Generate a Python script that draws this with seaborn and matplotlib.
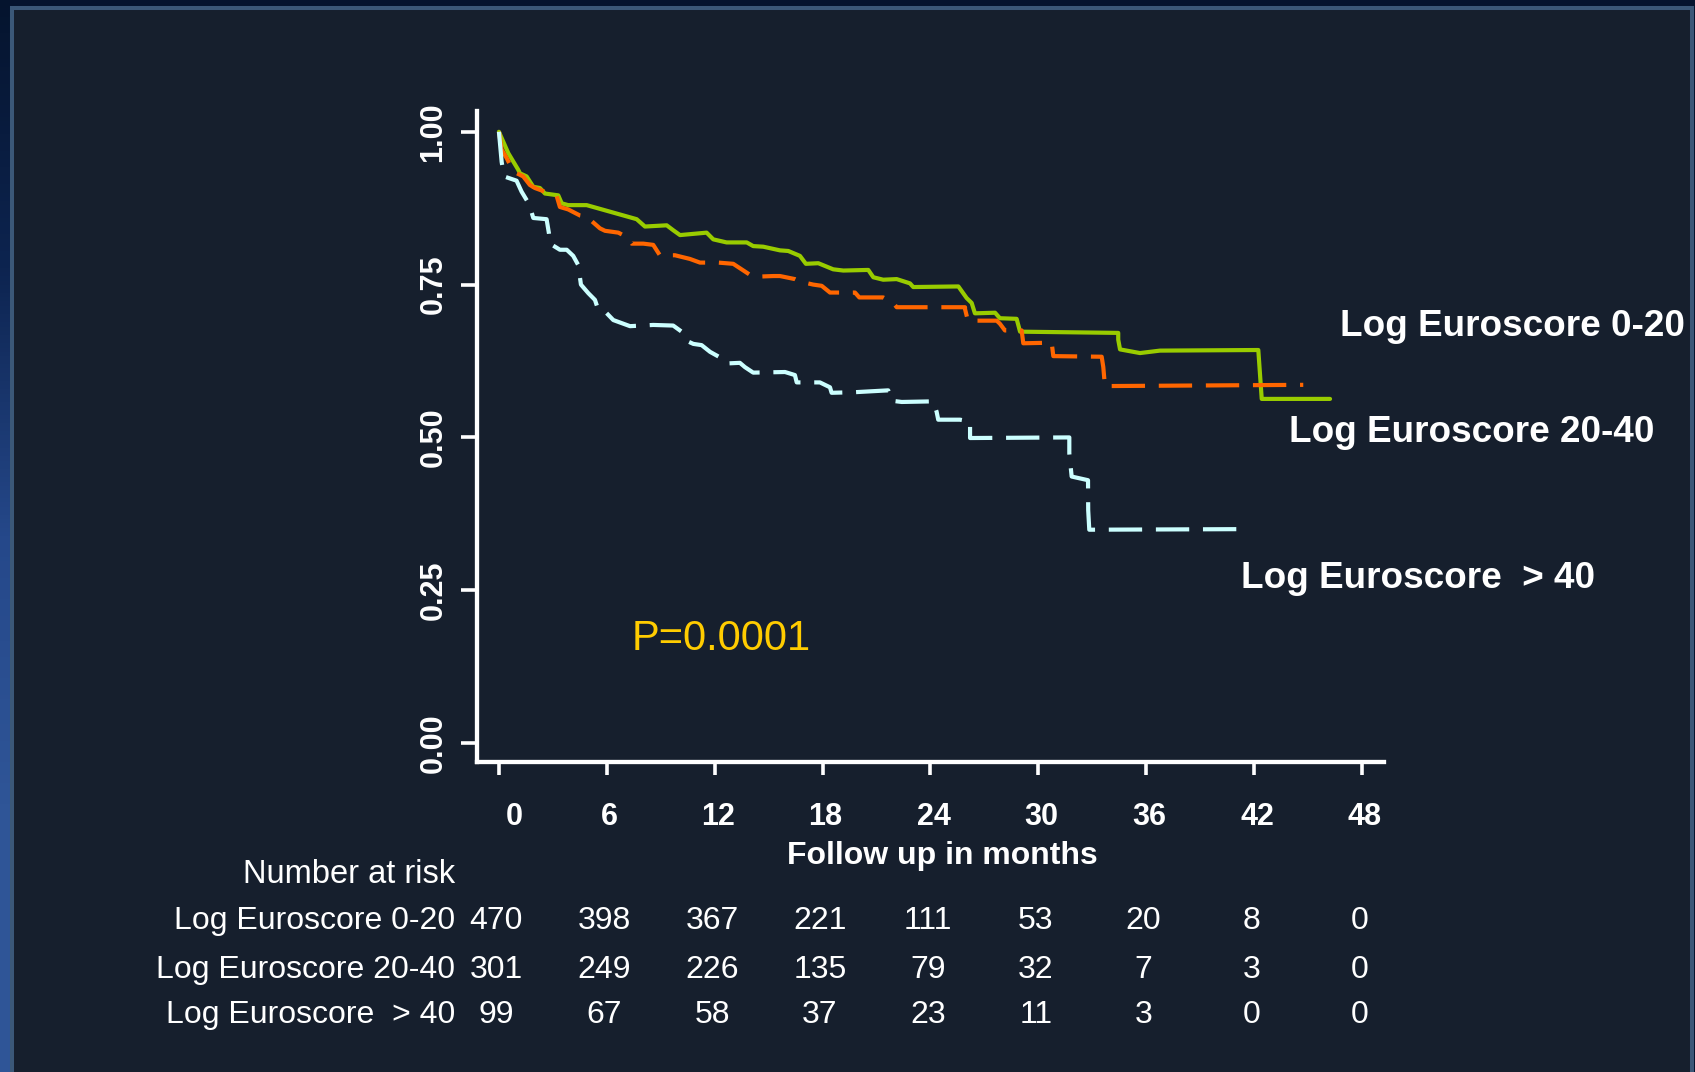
import numpy as np
import pandas as pd
import matplotlib
matplotlib.use("Agg")
import matplotlib.pyplot as plt
from matplotlib.patches import Rectangle
from matplotlib.colors import LinearSegmentedColormap
from matplotlib import transforms
import seaborn as sns

# ---------------------------------------------------------------- data
groups = ["Log Euroscore 0-20", "Log Euroscore 20-40", "Log Euroscore  > 40"]

months_0_20 = [0, 0.52, 1.07, 1.17, 1.54, 1.91, 2.28, 2.56, 3.30, 3.49, 3.85, 4.88, 7.66, 8.12,
               9.33, 9.69, 10.07, 11.55, 11.92, 12.66, 13.78, 14.14, 14.70, 15.63, 16.09, 16.74,
               17.07, 17.76, 18.59, 19.15, 20.54, 20.82, 21.37, 22.12, 22.86, 23.04, 25.55, 26.01,
               26.29, 26.47, 27.59, 27.86, 28.79, 28.98, 34.44, 34.44, 34.54, 35.65, 36.76, 42.23,
               42.42, 46.22]
surv_0_20 = [1.000, 0.965, 0.938, 0.932, 0.927, 0.910, 0.908, 0.899, 0.896, 0.883, 0.880, 0.880,
             0.857, 0.845, 0.847, 0.839, 0.831, 0.835, 0.824, 0.819, 0.819, 0.813, 0.812, 0.806,
             0.805, 0.797, 0.784, 0.785, 0.775, 0.773, 0.774, 0.762, 0.758, 0.759, 0.752, 0.746,
             0.747, 0.728, 0.720, 0.703, 0.704, 0.695, 0.694, 0.673, 0.671, 0.660, 0.644, 0.638,
             0.642, 0.643, 0.563, 0.563]

months_20_40 = [0, 0.15, 0.43, 0.80, 1.35, 1.72, 2.00, 3.21, 3.39, 3.85, 4.51, 4.88, 5.62, 5.90,
                6.64, 7.10, 7.38, 8.03, 8.58, 8.95, 9.79, 10.62, 11.18, 12.20, 13.03, 13.96, 14.33,
                15.26, 15.63, 16.46, 16.74, 17.48, 17.95, 18.41, 19.80, 20.04, 21.37, 21.93, 22.12,
                25.92, 25.92, 26.08, 27.68, 27.86, 28.14, 29.07, 29.16, 30.74, 30.83, 33.52, 33.61,
                33.70, 44.73]
surv_20_40 = [1.000, 0.971, 0.957, 0.935, 0.927, 0.913, 0.908, 0.895, 0.877, 0.873, 0.863, 0.861,
              0.842, 0.838, 0.835, 0.828, 0.817, 0.817, 0.815, 0.798, 0.798, 0.792, 0.786, 0.786,
              0.784, 0.766, 0.763, 0.764, 0.764, 0.759, 0.755, 0.750, 0.748, 0.737, 0.737, 0.729,
              0.729, 0.720, 0.713, 0.713, 0.710, 0.691, 0.691, 0.686, 0.675, 0.675, 0.654, 0.655,
              0.633, 0.632, 0.615, 0.584, 0.586]

months_gt40 = [0, 0.15, 0.28, 0.98, 1.26, 1.69, 1.91, 2.65, 2.78, 2.84, 3.39, 3.77, 4.13, 4.41,
               4.56, 4.97, 5.34, 5.52, 5.90, 6.36, 7.29, 8.58, 9.69, 10.16, 10.44, 10.81, 11.27,
               11.74, 12.29, 12.66, 13.40, 13.68, 14.14, 15.91, 16.46, 16.56, 17.85, 18.41, 18.50,
               19.80, 21.65, 21.84, 22.40, 24.15, 24.34, 24.43, 25.64, 26.20, 26.20, 31.72, 31.72,
               31.85, 32.76, 32.77, 32.83, 41.77]
surv_gt40 = [1.000, 0.951, 0.927, 0.920, 0.902, 0.881, 0.859, 0.857, 0.834, 0.817, 0.807, 0.807,
             0.797, 0.782, 0.750, 0.736, 0.725, 0.709, 0.706, 0.692, 0.682, 0.684, 0.683, 0.673,
             0.658, 0.653, 0.651, 0.640, 0.631, 0.621, 0.622, 0.615, 0.606, 0.607, 0.602, 0.590,
             0.590, 0.582, 0.573, 0.574, 0.577, 0.560, 0.558, 0.559, 0.542, 0.529, 0.529, 0.526,
             0.499, 0.500, 0.474, 0.436, 0.430, 0.381, 0.349, 0.350]

x_ticks = [0, 6, 12, 18, 24, 30, 36, 42, 48]
y_ticks = [0.00, 0.25, 0.50, 0.75, 1.00]
y_tick_labels = ["0.00", "0.25", "0.50", "0.75", "1.00"]

risk_0_20 = [470, 398, 367, 221, 111, 53, 20, 8, 0]
risk_20_40 = [301, 249, 226, 135, 79, 32, 7, 3, 0]
risk_gt40 = [99, 67, 58, 37, 23, 11, 3, 0, 0]

p_value_text = "P=0.0001"

# ---------------------------------------------------------------- styling
W, H, DPI = 1695, 1072, 100
PANEL = "#161f2d"
colors = {groups[0]: "#99cc00", groups[1]: "#ff6600", groups[2]: "#ccffff"}
dashes = {groups[0]: "", groups[1]: (8, 3.3), groups[2]: (8, 3.3)}

sns.set_theme(style="white")
plt.rcParams["font.family"] = ["Liberation Sans", "DejaVu Sans"]


def fx(px):
    return px / W


def fy(py):
    return 1 - py / H


fig = plt.figure(figsize=(W / DPI, H / DPI), dpi=DPI, facecolor="#05142e")

# blue gradient strip on the left edge
edge = fig.add_axes([0, 0, fx(12), 1], zorder=-10)
grad = np.linspace(0, 1, 256)[:, None]
edge_cmap = LinearSegmentedColormap.from_list(
    "edge", ["#05142e", "#0d2450", "#25488a", "#2f5597", "#2f5597"])
edge.imshow(grad, aspect="auto", cmap=edge_cmap, extent=[0, 1, 0, 1], origin="upper")
edge.axis("off")

# dark slide panel with a thin steel-blue frame
fig.add_artist(Rectangle((fx(12), fy(1085)), fx(1692 - 12), fy(7.5) - fy(1085),
                         transform=fig.transFigure, facecolor=PANEL,
                         edgecolor="#3b5878", lw=2.9, zorder=-5))

# ---------------------------------------------------------------- curves
frames = []
for g, t, s in [(groups[0], months_0_20, surv_0_20),
                (groups[1], months_20_40, surv_20_40),
                (groups[2], months_gt40, surv_gt40)]:
    frames.append(pd.DataFrame({"Months": t, "Survival": s, "Group": g}))
df = pd.concat(frames, ignore_index=True)

ax = fig.add_axes([fx(477), fy(762), fx(1384 - 477), fy(111) - fy(762)])
ax.set_facecolor("none")

sns.lineplot(data=df, x="Months", y="Survival", hue="Group", style="Group",
             hue_order=groups, style_order=groups, palette=colors, dashes=dashes,
             sort=False, estimator=None, linewidth=3.0, legend=False, ax=ax)

ax.set_xlim(-1.22, 49.22)
ax.set_ylim(-0.031, 1.034)
ax.set_xlabel("")
ax.set_ylabel("")
sns.despine(ax=ax)
for side in ("left", "bottom"):
    ax.spines[side].set_color("white")
    ax.spines[side].set_linewidth(3.1)

ax.set_xticks(x_ticks)
ax.set_xticklabels([str(v) for v in x_ticks], fontweight="bold")
ax.set_yticks(y_ticks)
ax.set_yticklabels(y_tick_labels, fontweight="bold", rotation=90, va="center")
ax.tick_params(axis="x", direction="out", length=9.5, width=2.6, color="white",
               pad=19, labelsize=22, labelcolor="white", bottom=True)
ax.tick_params(axis="y", direction="out", length=11.5, width=2.6, color="white",
               pad=9, labelsize=22, labelcolor="white", left=True)

for lab in ax.get_xticklabels():
    dx = 15 if lab.get_text() == "0" else 3
    lab.set_transform(lab.get_transform() +
                      transforms.ScaledTranslation(dx / DPI, 0, fig.dpi_scale_trans))

# ---------------------------------------------------------------- annotations
fig.text(fx(942), fy(864), "Follow up in months", ha="center", va="baseline",
         fontsize=23, fontweight="bold", color="white")

fig.text(fx(632), fy(650), p_value_text, ha="left", va="baseline",
         fontsize=30, color="#ffcc00")

for g, xpx, ypx in [(groups[0], 1340, 336), (groups[1], 1289, 442), (groups[2], 1241, 588)]:
    fig.text(fx(xpx), fy(ypx), g, ha="left", va="baseline",
             fontsize=26.6, fontweight="bold", color="white")

# number-at-risk table
fig.text(fx(455), fy(883), "Number at risk", ha="right", va="baseline",
         fontsize=23.5, color="white")
row_tf = transforms.blended_transform_factory(ax.transData, fig.transFigure)
for g, counts, ypx in [(groups[0], risk_0_20, 929), (groups[1], risk_20_40, 978),
                       (groups[2], risk_gt40, 1023)]:
    fig.text(fx(455), fy(ypx), g, ha="right", va="baseline", fontsize=23, color="white")
    for t, n in zip(x_ticks, counts):
        ax.text(t - 0.15, fy(ypx), str(n), transform=row_tf, ha="center", va="baseline",
                fontsize=23, color="white", clip_on=False)

fig.savefig("out.png", dpi=DPI, facecolor=fig.get_facecolor())
